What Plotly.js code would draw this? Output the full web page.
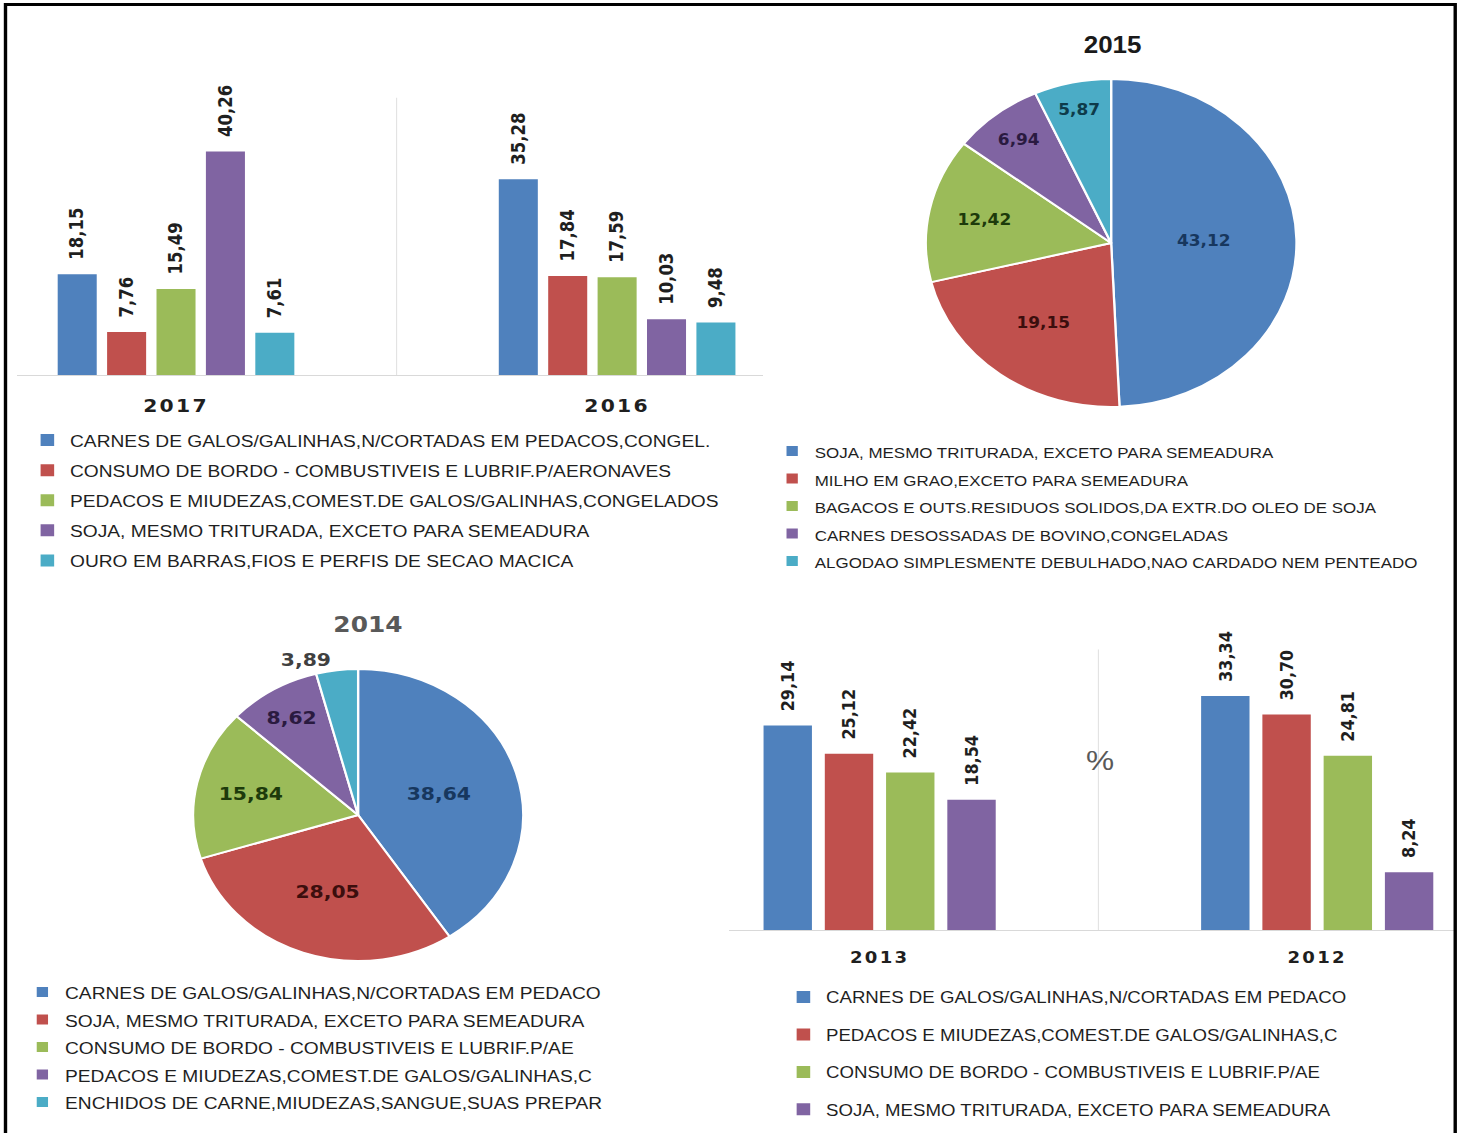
<!DOCTYPE html>
<html>
<head>
<meta charset="utf-8">
<script src="https://cdn.plot.ly/plotly-3.0.1.min.js"></script>
<style>
  html, body { margin: 0; padding: 0; background: #ffffff; overflow: hidden; }
  #chart { width: 1294px; height: 1133px; transform: scaleX(1.13); transform-origin: 0 0; }
</style>
</head>
<body>
<div id="chart"></div>
<script>
// ---------- DATA ----------
const COLORS = ['#4F81BD', '#C0504D', '#9BBB59', '#8064A2', '#4BACC6'];

// Top-left: 2017 / 2016 bars
const YEARS_TOP = ['2017', '2016'];
const TOP_SERIES = [
  'CARNES DE GALOS/GALINHAS,N/CORTADAS EM PEDACOS,CONGEL.',
  'CONSUMO DE BORDO - COMBUSTIVEIS E LUBRIF.P/AERONAVES',
  'PEDACOS E MIUDEZAS,COMEST.DE GALOS/GALINHAS,CONGELADOS',
  'SOJA, MESMO TRITURADA, EXCETO PARA SEMEADURA',
  'OURO EM BARRAS,FIOS E PERFIS DE SECAO MACICA'
];
const TOP_2017 = [18.15, 7.76, 15.49, 40.26, 7.61];
const TOP_2016 = [35.28, 17.84, 17.59, 10.03, 9.48];

// Top-right: 2015 pie
const P2015_LABELS = [
  'SOJA, MESMO TRITURADA, EXCETO PARA SEMEADURA',
  'MILHO EM GRAO,EXCETO PARA SEMEADURA',
  'BAGACOS E OUTS.RESIDUOS SOLIDOS,DA EXTR.DO OLEO DE SOJA',
  'CARNES DESOSSADAS DE BOVINO,CONGELADAS',
  'ALGODAO SIMPLESMENTE DEBULHADO,NAO CARDADO NEM PENTEADO'
];
const P2015_VALUES = [43.12, 19.15, 12.42, 6.94, 5.87];

// Bottom-left: 2014 pie
const P2014_LABELS = [
  'CARNES DE GALOS/GALINHAS,N/CORTADAS EM PEDACO',
  'SOJA, MESMO TRITURADA, EXCETO PARA SEMEADURA',
  'CONSUMO DE BORDO - COMBUSTIVEIS E LUBRIF.P/AE',
  'PEDACOS E MIUDEZAS,COMEST.DE GALOS/GALINHAS,C',
  'ENCHIDOS DE CARNE,MIUDEZAS,SANGUE,SUAS PREPAR'
];
const P2014_VALUES = [38.64, 28.05, 15.84, 8.62, 3.89];

// Bottom-right: 2013 / 2012 bars
const YEARS_BOTTOM = ['2013', '2012'];
const BOTTOM_SERIES = [
  'CARNES DE GALOS/GALINHAS,N/CORTADAS EM PEDACO',
  'PEDACOS E MIUDEZAS,COMEST.DE GALOS/GALINHAS,C',
  'CONSUMO DE BORDO - COMBUSTIVEIS E LUBRIF.P/AE',
  'SOJA, MESMO TRITURADA, EXCETO PARA SEMEADURA'
];
const BOTTOM_2013 = [29.14, 25.12, 22.42, 18.54];
const BOTTOM_2012 = [33.34, 30.70, 24.81, 8.24];

// ---------- STYLE ----------
const TXT = '#1f1f1f';
const barTextFont = (size) => ({ family: 'DejaVu Sans', size: size, weight: 'bold', color: TXT });
const pieTextColors = ['#17375E', '#3C0E0D', '#1D3A0B', '#2A1A40', '#0E3B4A'];
const spaced = (t, px) => `<span style="letter-spacing:${px}px">${t}</span>`;
const sized = (t, px) => `<span style="font-size:${px}px">${t}</span>`;

const traces = [];

TOP_SERIES.forEach((name, i) => {
  traces.push({
    type: 'bar', name: name, x: YEARS_TOP, y: [TOP_2017[i], TOP_2016[i]],
    xaxis: 'x', yaxis: 'y', legend: 'legend', legendgroup: 'top' + i,
    marker: { color: COLORS[i], line: { width: 0 } },
    texttemplate: '\u00a0\u00a0%{y:.2f}', textposition: 'outside', textangle: -90,
    textfont: barTextFont(16.5), cliponaxis: false, constraintext: 'none',
    hoverinfo: 'skip'
  });
});

BOTTOM_SERIES.forEach((name, i) => {
  traces.push({
    type: 'bar', name: name, x: YEARS_BOTTOM, y: [BOTTOM_2013[i], BOTTOM_2012[i]],
    xaxis: 'x2', yaxis: 'y2', legend: 'legend4', legendgroup: 'bot' + i,
    marker: { color: COLORS[i], line: { width: 0 } },
    texttemplate: '\u00a0\u00a0%{y:.2f}', textposition: 'outside', textangle: -90,
    textfont: barTextFont(16), cliponaxis: false, constraintext: 'none',
    hoverinfo: 'skip'
  });
});

traces.push({
  type: 'pie', labels: P2015_LABELS.map(l => sized(l, 15)), values: P2015_VALUES,
  legend: 'legend2', sort: false, direction: 'clockwise', rotation: 0,
  domain: { x: [0.6231, 0.8967], y: [0.6408, 0.9303] },
  marker: { colors: COLORS, line: { color: '#ffffff', width: 2 } },
  texttemplate: '%{value:.2f}', textposition: 'inside', insidetextorientation: 'horizontal',
  textfont: { family: 'DejaVu Sans', size: 15, weight: 'bold', color: pieTextColors },
  hoverinfo: 'skip'
});

traces.push({
  type: 'pie', labels: P2014_LABELS.map(l => sized(l, 17)), values: P2014_VALUES,
  legend: 'legend3', sort: false, direction: 'clockwise', rotation: 0,
  domain: { x: [0.1218, 0.3680], y: [0.1518, 0.4095] },
  marker: { colors: COLORS, line: { color: '#ffffff', width: 2 } },
  texttemplate: '%{value:.2f}',
  textposition: ['inside', 'inside', 'inside', 'inside', 'outside'],
  insidetextorientation: 'horizontal',
  textfont: { family: 'DejaVu Sans', size: 18, weight: 'bold',
              color: ['#17375E', '#3C0E0D', '#1D3A0B', '#2A1A40', '#404040'] },
  hoverinfo: 'skip'
});

const hiddenY = { showticklabels: false, showgrid: false, zeroline: false, showline: false, ticks: '', fixedrange: true };
const legendBase = { xanchor: 'left', yanchor: 'top', orientation: 'v', bgcolor: 'rgba(0,0,0,0)', borderwidth: 0 };

const layout = {
  width: 1294, height: 1133, autosize: false,
  margin: { l: 0, r: 0, t: 0, b: 0, pad: 0 },
  paper_bgcolor: '#ffffff', plot_bgcolor: 'rgba(0,0,0,0)',
  font: { family: 'Liberation Sans', color: TXT },
  separators: ',.',
  barmode: 'group', bargap: 0.44, bargroupgap: 0.21,
  xaxis: {
    domain: [0.01163, 0.52189], anchor: 'y', type: 'category', range: [-0.3605, 1.331],
    showline: true, linecolor: '#D9D9D9', linewidth: 1, ticks: '', showgrid: false, zeroline: false,
    tickmode: 'array', tickvals: YEARS_TOP, ticktext: YEARS_TOP.map(t => spaced(t, 2)),
    tickfont: { family: 'DejaVu Sans', size: 18, weight: 'bold', color: TXT },
    ticklabelstandoff: 14, fixedrange: true
  },
  yaxis: Object.assign({ domain: [0.66902, 0.91395], anchor: 'x', range: [0, 50] }, hiddenY),
  xaxis2: {
    domain: [0.49863, 0.99521], anchor: 'y2', type: 'category', range: [-0.344, 1.3154],
    showline: true, linecolor: '#D9D9D9', linewidth: 1, ticks: '', showgrid: false, zeroline: false,
    tickmode: 'array', tickvals: YEARS_BOTTOM, ticktext: YEARS_BOTTOM.map(t => spaced(t, 2)),
    tickfont: { family: 'DejaVu Sans', size: 16, weight: 'bold', color: TXT },
    ticklabelstandoff: 13, fixedrange: true
  },
  yaxis2: Object.assign({ domain: [0.17917, 0.42701], anchor: 'x2', range: [0, 40] }, hiddenY),
  legend: Object.assign({}, legendBase, {
    x: 0.01694, y: 0.6271, tracegroupgap: 5, traceorder: 'grouped',
    font: { family: 'Liberation Sans', size: 17, color: TXT }
  }),
  legend2: Object.assign({}, legendBase, {
    x: 0.5263, y: 0.6185, traceorder: 'normal',
    font: { family: 'Liberation Sans', size: 18.85, color: TXT }
  }),
  legend3: Object.assign({}, legendBase, {
    x: 0.01353, y: 0.1410, traceorder: 'normal',
    font: { family: 'Liberation Sans', size: 18.85, color: TXT }
  }),
  legend4: Object.assign({}, legendBase, {
    x: 0.534, y: 0.13522, tracegroupgap: 13, traceorder: 'grouped',
    font: { family: 'Liberation Sans', size: 16.5, color: TXT }
  }),
  shapes: [
    { type: 'rect', xref: 'paper', yref: 'paper', x0: 0.00376, x1: 0.99521, y0: -0.02, y1: 0.99603,
      line: { color: '#000000', width: 3 }, fillcolor: 'rgba(0,0,0,0)' },
    { type: 'line', xref: 'x', yref: 'y', x0: 0.5, x1: 0.5, y0: 0, y1: 50, line: { color: '#E3E3E3', width: 1 } },
    { type: 'line', xref: 'x2', yref: 'y2', x0: 0.5, x1: 0.5, y0: 0, y1: 40, line: { color: '#E3E3E3', width: 1 } }
  ],
  annotations: [
    { text: '2015', xref: 'paper', yref: 'paper', x: 0.7606, y: 0.96028, xanchor: 'center', yanchor: 'middle',
      showarrow: false, font: { family: 'Liberation Sans', size: 23, weight: 'bold', color: '#1a1a1a' } },
    { text: '2014', xref: 'paper', yref: 'paper', x: 0.2517, y: 0.44837, xanchor: 'center', yanchor: 'middle',
      showarrow: false, font: { family: 'DejaVu Sans', size: 22, weight: 'bold', color: '#595959' } },
    { text: '%', xref: 'paper', yref: 'paper', x: 0.7524, y: 0.32921, xanchor: 'center', yanchor: 'middle',
      showarrow: false, font: { family: 'Liberation Sans', size: 28, color: '#595959' } }
  ]
};

Plotly.newPlot('chart', traces, layout, { staticPlot: true, displayModeBar: false });
</script>
</body>
</html>
